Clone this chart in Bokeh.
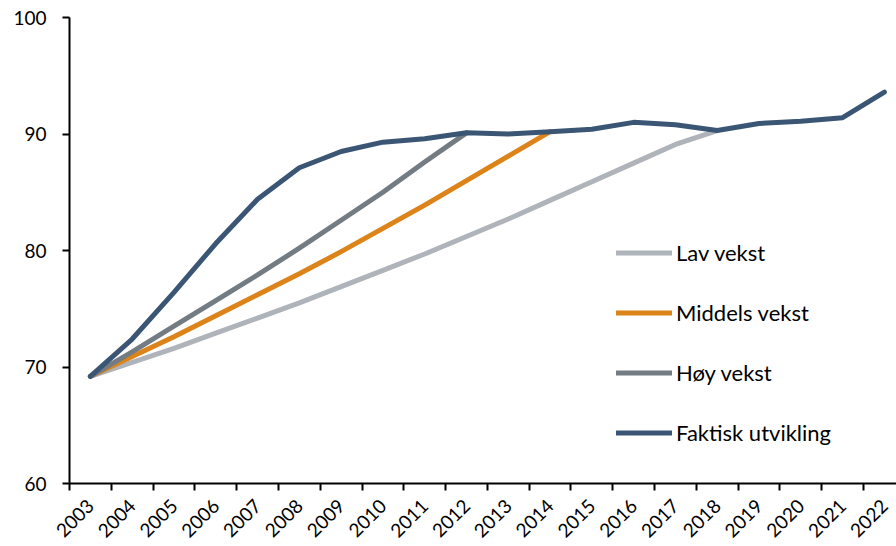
from bokeh.plotting import figure
from bokeh.models import FixedTicker, Legend, LegendItem, Range1d
from bokeh.embed import file_html
from bokeh.resources import INLINE

years = [str(y) for y in range(2003, 2023)]
faktisk = [69.2, 72.4, 76.4, 80.6, 84.4, 87.1, 88.5, 89.3, 89.6, 90.1,
           90.0, 90.2, 90.4, 91.0, 90.8, 90.3, 90.9, 91.1, 91.4, 93.6]
lav = [69.2, 70.4, 71.6, 72.9, 74.2, 75.5, 76.9, 78.3, 79.7, 81.2,
       82.7, 84.3, 85.9, 87.5, 89.1, 90.3]
middels = [69.2, 70.9, 72.6, 74.4, 76.2, 78.0, 79.9, 81.9, 83.9, 86.0,
           88.1, 90.2]
hoy = [69.2, 71.3, 73.5, 75.7, 77.9, 80.2, 82.6, 85.0, 87.6, 90.1]
y_ticks = [60, 70, 80, 90, 100]

FONT = "Lato"

p = figure(width=896, height=546, output_backend="svg", toolbar_location=None,
           x_range=Range1d(-0.5, 19.29), y_range=Range1d(60, 100),
           min_border_left=69, min_border_right=0, min_border_top=17,
           min_border_bottom=63)
p.outline_line_color = None
p.grid.grid_line_color = None
p.background_fill_color = "white"

series = [("Lav vekst", lav, "#AEB4B9"),
          ("Middels vekst", middels, "#DC831A"),
          ("Høy vekst", hoy, "#737C83"),
          ("Faktisk utvikling", faktisk, "#3B5674")]
items = []
for name, vals, col in series:
    xs = list(range(len(vals)))
    r = p.line(xs, vals, line_color=col, line_width=5, line_cap="round",
               line_join="round")
    items.append(LegendItem(label=name, renderers=[r]))

legend = Legend(items=items, location=(547, 37), padding=0, margin=0,
                spacing=33, glyph_width=56, glyph_height=27, label_height=27,
                label_standoff=4, border_line_color=None,
                background_fill_alpha=0, label_text_font=FONT,
                label_text_font_size="22px", label_text_color="#000000")
p.add_layout(legend, "center")

xa = p.xaxis[0]
xa.ticker = FixedTicker(ticks=list(range(len(years))),
                        minor_ticks=[i - 0.5 for i in range(len(years))])
xa.major_label_overrides = {i: y for i, y in enumerate(years)}
xa.major_label_orientation = 0.785398
xa.major_tick_out = 0
xa.major_tick_in = 0
xa.minor_tick_out = 7
xa.minor_tick_in = 0
xa.minor_tick_line_color = "black"
xa.minor_tick_line_width = 2
xa.axis_line_color = "black"
xa.axis_line_width = 2
xa.major_label_standoff = 12
xa.major_label_text_font = FONT
xa.major_label_text_font_size = "19px"
xa.major_label_text_color = "black"

ya = p.yaxis[0]
ya.ticker = FixedTicker(ticks=y_ticks, minor_ticks=[])
ya.major_tick_out = 7
ya.major_tick_in = 0
ya.major_tick_line_width = 2
ya.axis_line_width = 2
ya.major_label_text_font = FONT
ya.major_label_text_font_size = "19px"
ya.major_label_text_color = "black"
ya.major_label_standoff = 16

open("out.html", "w").write(file_html(p, INLINE))
